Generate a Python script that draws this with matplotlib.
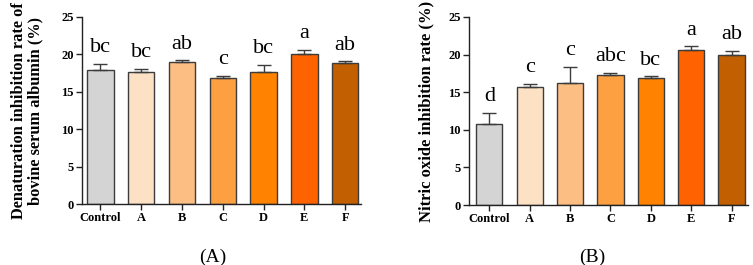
import numpy as np
import matplotlib
matplotlib.use('Agg')
import matplotlib.pyplot as plt

plt.rcParams['font.family'] = ['Liberation Serif', 'DejaVu Serif']

groups = ['Control', 'A', 'B', 'C', 'D', 'E', 'F']
colors = ['#d4d4d4', '#fde1c4', '#fdbe84', '#fca042', '#ff8200', '#ff6200', '#c25f00']

# panel A: protein denaturation inhibition
bsa_mean = [17.85, 17.7, 18.95, 16.8, 17.7, 20.05, 18.85]
bsa_err = [0.85, 0.35, 0.25, 0.3, 0.9, 0.55, 0.2]
bsa_sig = ['bc', 'bc', 'ab', 'c', 'bc', 'a', 'ab']

# panel B: nitric oxide inhibition
no_mean = [10.8, 15.7, 16.25, 17.25, 16.85, 20.6, 19.9]
no_err = [1.5, 0.45, 2.1, 0.35, 0.25, 0.5, 0.6]
no_sig = ['d', 'c', 'c', 'abc', 'bc', 'a', 'ab']

fig = plt.figure(figsize=(7.53, 2.65), dpi=100)
ax1 = fig.add_axes([0.109, 0.23, 0.371, 0.706])
ax2 = fig.add_axes([0.623, 0.226, 0.370, 0.71])

def draw(ax, mean, err, sig, ylabel, ysize, pad, tag, xtag, left):
    x = np.arange(len(groups))
    ax.bar(x, mean, width=0.65, color=colors, edgecolor='#3c3c3c', linewidth=1.0, zorder=2)
    ax.errorbar(x, mean, yerr=[np.zeros(len(err)), err], fmt='none', ecolor='#3c3c3c',
                elinewidth=1.0, capsize=5.3, capthick=1.0, zorder=3)
    for xi, m, e, s in zip(x, mean, err, sig):
        ax.annotate(s, (xi, m + e), xytext=(0, 8.5), textcoords='offset points',
                    ha='center', va='baseline', fontsize=16)
    ax.set_ylim(0, 25)
    ax.set_xlim(left, 6.4)
    ax.set_yticks([0, 5, 10, 15, 20, 25])
    ax.set_xticks(x)
    ax.set_xticklabels(groups)
    for sp in ['top', 'right']:
        ax.spines[sp].set_visible(False)
    for sp in ['left', 'bottom']:
        ax.spines[sp].set_linewidth(1.0)
        ax.spines[sp].set_color('#222222')
    ax.tick_params(direction='out', length=4, width=1.0, labelsize=9, pad=2, color='#222222')
    for lab in ax.get_xticklabels() + ax.get_yticklabels():
        lab.set_fontweight('bold')
    ax.set_ylabel(ylabel, fontsize=ysize, fontweight='bold', labelpad=pad, linespacing=1.05)
    fig.text(xtag, 0.03, tag, ha='center', va='center', fontsize=14)

draw(ax1, bsa_mean, bsa_err, bsa_sig,
     'Denaturation inhibition rate of\nbovine serum albumin (%)', 11.8, 13, '(A)', 0.283, -0.45)
draw(ax2, no_mean, no_err, no_sig,
     'Nitric oxide inhibition rate (%)', 12, 10, '(B)', 0.787, -0.5)

fig.savefig('out.png', dpi=100)
